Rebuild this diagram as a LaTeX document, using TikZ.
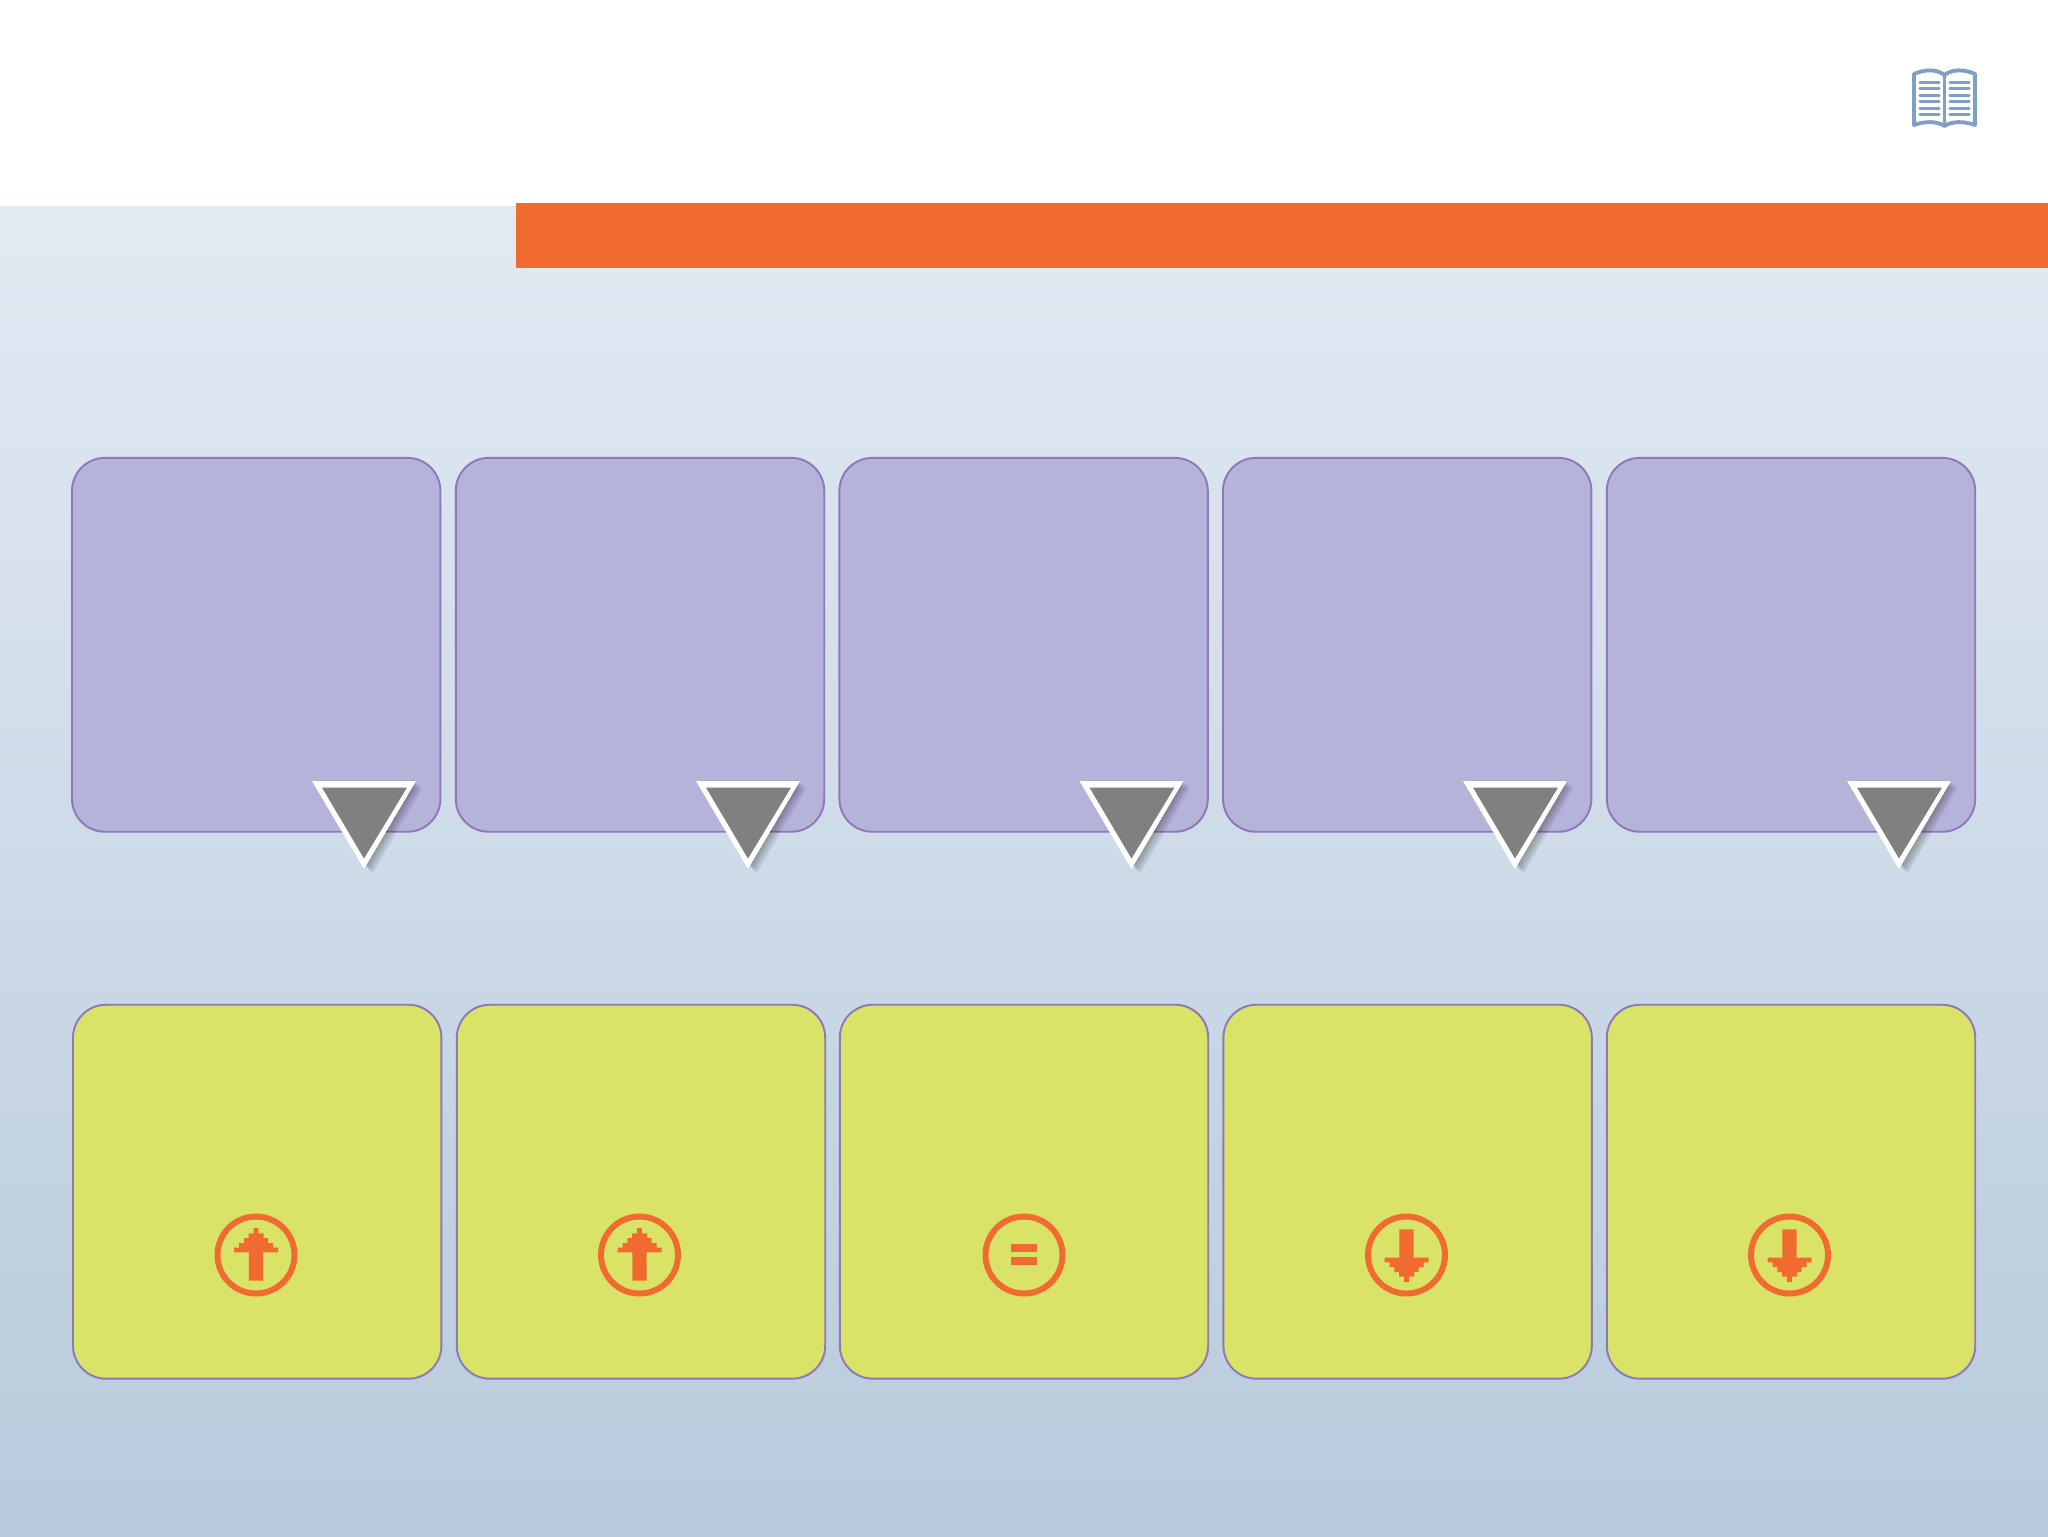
\documentclass[tikz,border=0pt]{standalone}
\usepackage{tikz}
\definecolor{barorange}{HTML}{F16A30}
\definecolor{cardpurple}{HTML}{B6B3DB}
\definecolor{cardedge}{HTML}{8E78B8}
\definecolor{cardgreen}{HTML}{D9E367}
\definecolor{bookblue}{HTML}{7F9FC4}
\definecolor{bgtop}{HTML}{E2EAF3}
\definecolor{bgbottom}{HTML}{B8CADC}

\begin{document}
\begin{tikzpicture}[
    x=0.02cm,
    y=-0.02cm,
    card/.style={rectangle, draw=cardedge, line width=1.1pt, rounded corners=0.66cm,
      minimum width=7.37cm, minimum height=7.48cm, inner sep=0pt},
    topcard/.style={card, fill=cardpurple},
    lowcard/.style={card, fill=cardgreen},
    ring/.style={circle, draw=barorange, line width=3.4pt, minimum size=1.54cm, inner sep=0pt},
    bookline/.style={draw=bookblue, line width=2pt, line cap=round},
    marker/.pic={
      \foreach \off in {1,2,3,4,5,6,7,8,9}
        \fill[black, opacity=0.045] (-50+\off,\off-2) -- (50+\off,\off-2) -- (\off,84+\off) -- cycle;
      \fill[white] (-52,0) -- (52,0) -- (0,88) -- cycle;
      \fill[black!50] (-42,6.5) -- (43,6.5) -- (0,77.5) -- cycle;
    },
    stair/.pic={
      \fill[barorange] (-2.4,-27) -- (2.4,-27) -- (2.4,-21.7) -- (7.5,-21.7) -- (7.5,-17)
        -- (12.2,-17) -- (12.2,-12) -- (17,-12) -- (17,-7.3) -- (22,-7.3) -- (22,-2.7)
        -- (7.2,-2.7) -- (7.2,25.7) -- (-7.2,25.7) -- (-7.2,-2.7) -- (-22,-2.7) -- (-22,-7.3)
        -- (-17,-7.3) -- (-17,-12) -- (-12.2,-12) -- (-12.2,-17) -- (-7.5,-17) -- (-7.5,-21.7)
        -- (-2.4,-21.7) -- cycle;
    }
  ]

  % page and background
  \useasboundingbox (0,0) rectangle (2048,1536);
  \fill[white] (0,0) rectangle (2048,1536);
  \shade[top color=bgtop, bottom color=bgbottom] (0,206) rectangle (2048,1536);
  \fill[barorange] (516,203) rectangle (2048,268);

  % book icon
  \draw[draw=bookblue, line width=2.2pt, line join=round]
    (1914,125) -- (1914,74) .. controls (1925,69) and (1937,69) .. (1944.5,75)
    .. controls (1952,69) and (1964,69) .. (1975,74) -- (1975,125)
    .. controls (1964,121) and (1952,121) .. (1944.5,126)
    .. controls (1937,121) and (1925,121) .. (1914,125) -- cycle;
  \draw[draw=bookblue, line width=2.2pt] (1944.5,75) -- (1944.5,126);
  \foreach \ly in {82.3,88.7,95.3,101.7,108.3,114.7} {
    \draw[bookline] (1920,\ly) -- (1939,\ly);
    \draw[bookline] (1950,\ly) -- (1969,\ly);
  }

  % top row
  \foreach \i/\cx in {1/256.2,2/640,3/1023.6,4/1407.2,5/1791} {
    \node[topcard] (top\i) at (\cx,644.8) {};
  }
  \foreach \i/\tx in {1/364,2/748,3/1131.5,4/1515,5/1899} {
    \pic (mark\i) at (\tx,781) {marker};
  }

  % lower row
  \foreach \i/\cx in {1/257.2,2/641,3/1024,4/1407.6,5/1791} {
    \node[lowcard] (low\i) at (\cx,1191.7) {};
  }

  % icons in the lower row
  \node[ring] (ring1) at (256,1255) {};
  \node[ring] (ring2) at (639.5,1255) {};
  \node[ring] (ring3) at (1024,1255) {};
  \node[ring] (ring4) at (1406.5,1255) {};
  \node[ring] (ring5) at (1789.5,1255) {};
  \pic (up1) at (ring1.center) {stair};
  \pic (up2) at (ring2.center) {stair};
  \pic[yscale=-1] (down1) at (ring4.center) {stair};
  \pic[yscale=-1] (down2) at (ring5.center) {stair};
  \fill[barorange] (1011,1244) rectangle (1037,1252);
  \fill[barorange] (1011,1257) rectangle (1037,1265);

\end{tikzpicture}
\end{document}
